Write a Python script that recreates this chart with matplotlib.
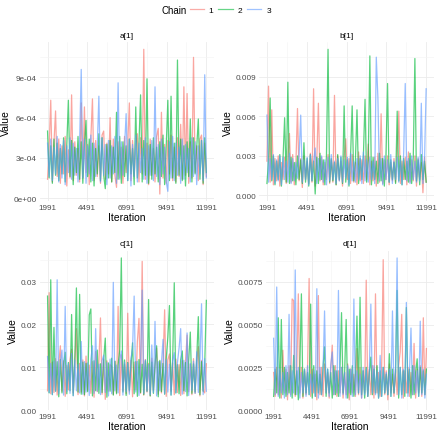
import numpy as np
import matplotlib
matplotlib.use("Agg")
import matplotlib.pyplot as plt
from matplotlib.lines import Line2D

plt.rcParams['font.family'] = ['Liberation Sans', 'DejaVu Sans']

# trace values (thinned); each list is stored in integer units
# a[1] in 1e-5
a_chain1 = [14, 38, 73, 12, 41, 65, 16, 44, 11, 39, 18, 46, 9, 36, 15, 77, 13, 42, 17, 37,
            12, 71, 15, 68, 19, 40, 10, 45, 74, 13, 43, 16, 39, 11, 47, 50, 14, 41, 18, 60,
            12, 44, 17, 8, 42, 15, 38, 11, 46, 19, 40, 71, 13, 43, 16, 39, 48, 12, 45, 18,
            111, 14, 41, 10, 44, 17, 37, 12, 46, 52, 3, 64, 15, 40, 11, 43, 18, 47, 13, 38,
            12, 45, 16, 55, 14, 83, 17, 78, 11, 42, 15, 105, 19, 39, 13, 44, 47, 10, 41, 16]
a_chain2 = [50, 15, 39, 11, 44, 17, 41, 13, 37, 18, 45, 12, 40, 73, 16, 43, 10, 38, 19, 46,
            14, 42, 11, 39, 58, 16, 44, 12, 41, 9, 37, 18, 48, 13, 45, 17, 7, 40, 15, 43,
            12, 38, 19, 64, 14, 46, 11, 42, 16, 39, 13, 44, 18, 37, 10, 68, 15, 41, 77, 12,
            43, 17, 89, 11, 40, 14, 45, 18, 38, 12, 42, 16, 47, 10, 39, 73, 13, 76, 15, 41,
            11, 103, 17, 44, 13, 39, 9, 42, 16, 59, 12, 45, 18, 38, 59, 14, 43, 11, 45, 19]
a_chain3 = [41, 16, 44, 13, 38, 18, 46, 12, 40, 15, 43, 10, 39, 19, 45, 14, 41, 17, 37, 12,
            42, 96, 15, 44, 11, 39, 18, 47, 13, 41, 16, 38, 76, 12, 45, 17, 40, 10, 43, 15,
            39, 18, 46, 11, 86, 14, 42, 17, 38, 63, 13, 44, 9, 40, 16, 47, 12, 41, 19, 37,
            14, 45, 11, 39, 17, 43, 13, 83, 16, 40, 10, 44, 18, 38, 12, 5, 42, 15, 46, 13,
            41, 17, 38, 11, 44, 14, 40, 19, 37, 12, 45, 16, 42, 10, 39, 18, 43, 13, 92, 15]

# b[1] in 1e-4
b_chain1 = [26, 83, 10, 65, 8, 28, 11, 30, 7, 25, 12, 29, 9, 27, 47, 10, 31, 8, 24, 66,
            11, 28, 6, 30, 12, 26, 9, 32, 10, 81, 7, 27, 70, 11, 29, 8, 25, 12, 31, 9,
            27, 10, 76, 8, 30, 11, 26, 7, 29, 43, 12, 28, 9, 31, 10, 25, 8, 33, 11, 27,
            9, 30, 12, 39, 8, 26, 11, 29, 7, 32, 10, 62, 9, 27, 12, 30, 8, 25, 11, 28,
            10, 31, 64, 9, 26, 12, 29, 8, 33, 10, 27, 11, 30, 7, 28, 12, 25, 2, 29, 10]
b_chain2 = [9, 27, 74, 11, 30, 8, 26, 12, 31, 7, 28, 59, 10, 86, 9, 29, 11, 25, 8, 30,
            12, 27, 9, 40, 10, 28, 7, 31, 11, 26, 1, 29, 9, 32, 12, 27, 8, 30, 111, 10,
            28, 11, 25, 8, 31, 12, 29, 9, 68, 10, 27, 7, 30, 68, 11, 26, 65, 9, 28, 12,
            31, 73, 10, 27, 106, 8, 29, 12, 26, 9, 32, 11, 28, 7, 30, 85, 10, 27, 12, 25,
            9, 64, 11, 30, 8, 28, 12, 26, 10, 32, 9, 29, 104, 11, 27, 8, 31, 12, 26, 10]
b_chain3 = [61, 10, 28, 12, 31, 9, 27, 11, 30, 8, 29, 12, 26, 10, 32, 9, 28, 11, 25, 13,
            30, 61, 10, 27, 12, 29, 8, 31, 11, 26, 36, 9, 28, 12, 30, 10, 27, 8, 29, 11,
            31, 12, 26, 9, 28, 11, 30, 10, 27, 13, 29, 8, 32, 11, 26, 10, 28, 12, 30, 9,
            33, 11, 27, 10, 29, 12, 26, 9, 105, 74, 11, 28, 8, 30, 12, 27, 10, 31, 9, 26,
            12, 29, 10, 27, 8, 31, 85, 11, 28, 9, 30, 12, 26, 10, 29, 11, 70, 9, 27, 81]

# c[1] in 1e-4
c_chain1 = [45, 274, 38, 112, 41, 120, 35, 108, 150, 44, 115, 32, 104, 47, 118, 142, 40, 111, 190, 36,
            109, 42, 117, 33, 126, 46, 105, 39, 113, 30, 137, 43, 110, 215, 37, 119, 25, 115, 44, 106,
            102, 36, 114, 41, 242, 34, 129, 45, 107, 38, 226, 42, 116, 31, 112, 47, 160, 214, 39, 347,
            35, 118, 42, 109, 33, 121, 46, 104, 145, 37, 113, 40, 108, 234, 32, 117, 131, 44, 110, 36,
            119, 41, 106, 34, 115, 38, 111, 175, 43, 107, 36, 120, 39, 112, 148, 33, 116, 45, 40, 108]
c_chain2 = [266, 40, 304, 36, 193, 44, 113, 31, 118, 40, 107, 135, 38, 111, 45, 223, 34, 116, 285, 42,
            270, 37, 112, 36, 109, 43, 222, 236, 33, 115, 45, 140, 39, 108, 41, 119, 168, 30, 110, 44,
            121, 35, 114, 38, 106, 140, 355, 42, 117, 34, 111, 46, 105, 157, 38, 113, 32, 118, 41, 107,
            36, 115, 44, 258, 33, 112, 39, 108, 150, 31, 116, 43, 109, 37, 120, 170, 244, 35, 114, 297,
            40, 106, 38, 117, 138, 45, 111, 33, 115, 182, 39, 108, 42, 119, 218, 36, 113, 44, 107, 256]
c_chain3 = [125, 41, 109, 36, 114, 44, 304, 38, 112, 140, 35, 242, 43, 108, 39, 132, 33, 117, 45, 106,
            40, 160, 37, 113, 42, 110, 34, 118, 150, 39, 190, 44, 107, 36, 115, 128, 41, 111, 33, 119,
            38, 298, 45, 105, 40, 116, 138, 35, 112, 43, 109, 37, 120, 143, 266, 42, 114, 34, 108, 280,
            39, 117, 44, 106, 36, 152, 41, 207, 33, 113, 45, 110, 165, 38, 118, 42, 107, 35, 115, 134,
            40, 111, 145, 190, 37, 116, 43, 180, 34, 109, 46, 114, 39, 136, 41, 112, 248, 36, 120, 44]

# d[1] in 1e-4
d_chain1 = [22, 8, 25, 9, 23, 7, 35, 10, 24, 6, 26, 9, 65, 64, 8, 22, 68, 10, 25, 7,
            23, 9, 26, 77, 8, 24, 10, 21, 6, 67, 9, 25, 8, 27, 10, 22, 7, 24, 38, 9,
            26, 8, 23, 10, 25, 7, 22, 9, 27, 6, 24, 10, 21, 8, 36, 9, 25, 7, 23, 10,
            76, 8, 24, 9, 26, 7, 68, 10, 22, 8, 25, 88, 9, 23, 6, 27, 10, 21, 8, 24,
            9, 26, 34, 56, 7, 23, 10, 25, 8, 22, 9, 39, 7, 24, 10, 26, 8, 54, 9, 36]
d_chain2 = [8, 24, 10, 54, 7, 53, 9, 25, 8, 22, 10, 26, 7, 32, 9, 23, 6, 25, 68, 8,
            24, 10, 22, 9, 62, 7, 26, 8, 23, 10, 21, 9, 25, 37, 8, 24, 10, 22, 7, 26,
            9, 23, 8, 25, 57, 10, 22, 53, 7, 24, 9, 26, 8, 21, 55, 10, 66, 9, 23, 7,
            25, 8, 22, 31, 9, 24, 10, 26, 7, 23, 8, 25, 10, 21, 9, 33, 8, 24, 10, 22,
            70, 7, 25, 9, 23, 8, 60, 10, 24, 7, 26, 9, 22, 30, 8, 25, 10, 23, 9, 24]
d_chain3 = [42, 9, 72, 8, 24, 10, 22, 7, 26, 9, 56, 8, 23, 10, 82, 9, 25, 7, 22, 10,
            24, 8, 26, 9, 21, 10, 23, 8, 71, 7, 25, 9, 22, 58, 10, 24, 8, 26, 34, 9,
            23, 10, 70, 8, 25, 9, 22, 7, 26, 10, 24, 8, 65, 9, 23, 10, 21, 7, 25, 9,
            24, 8, 22, 62, 10, 26, 9, 23, 7, 32, 8, 25, 10, 22, 9, 24, 8, 58, 10, 23,
            89, 9, 25, 7, 24, 10, 63, 8, 22, 48, 9, 26, 10, 23, 8, 52, 9, 24, 7, 21]

first_iter, last_iter = 1991, 11991
x_ticks = [1991, 4491, 6991, 9491, 11991]
chain_labels = ["1", "2", "3"]
chain_colors = ["#F8766D", "#00BA38", "#619CFF"]

panels = [
    ("a[1]", [a_chain1, a_chain2, a_chain3], 1e-5, [0, 3e-4, 6e-4, 9e-4],
     ["0e+00", "3e-04", "6e-04", "9e-04"], [0.090, 0.535, 0.397, 0.366]),
    ("b[1]", [b_chain1, b_chain2, b_chain3], 1e-4, [0, 0.003, 0.006, 0.009],
     ["0.000", "0.003", "0.006", "0.009"], [0.5886, 0.535, 0.398, 0.366]),
    ("c[1]", [c_chain1, c_chain2, c_chain3], 1e-4, [0, 0.01, 0.02, 0.03],
     ["0.00", "0.01", "0.02", "0.03"], [0.090, 0.055, 0.397, 0.366]),
    ("d[1]", [d_chain1, d_chain2, d_chain3], 1e-4, [0, 0.0025, 0.005, 0.0075],
     ["0.0000", "0.0025", "0.0050", "0.0075"], [0.6045, 0.055, 0.382, 0.366]),
]

fig = plt.figure(figsize=(4.4, 4.35), dpi=100)

for title, chains, unit, yt, ytl, rect in panels:
    ax = fig.add_axes(rect)
    for vals, col in zip(chains, chain_colors):
        y = np.array(vals) * unit
        x = np.linspace(first_iter, last_iter, len(y))
        ax.plot(x, y, color=col, alpha=0.65, lw=0.9)
    ax.margins(x=0.05, y=0.05)
    ax.set_xticks(x_ticks)
    ax.set_xticklabels([str(t) for t in x_ticks])
    ax.set_yticks(yt)
    ax.set_yticklabels(ytl)
    # minor gridlines halfway between majors, like ggplot
    ax.set_xticks([(x_ticks[i] + x_ticks[i + 1]) / 2 for i in range(len(x_ticks) - 1)], minor=True)
    step = yt[1] - yt[0]
    ax.set_yticks([v + step / 2 for v in yt[:-1]] + [yt[-1] + step / 2], minor=True)
    ax.grid(which="major", color="#EBEBEB", lw=0.6)
    ax.grid(which="minor", color="#F4F4F4", lw=0.4)
    ax.set_axisbelow(True)
    for s in ax.spines.values():
        s.set_visible(False)
    ax.tick_params(which="both", length=0, labelsize=5.9, labelcolor="#4D4D4D", pad=2)
    ax.set_title(title, fontsize=6, pad=4)
    ax.set_xlabel("Iteration", fontsize=7.5, labelpad=1)
    ax.set_ylabel("Value", fontsize=7.5, labelpad=2)

handles = [Line2D([], [], color=c, alpha=0.6, lw=0.9) for c in chain_colors]
fig.text(0.425, 0.975, "Chain", fontsize=7, ha="right", va="center")
fig.legend(handles, chain_labels, ncol=3, loc="center left", bbox_to_anchor=(0.427, 0.975),
           frameon=False, fontsize=6, handlelength=1.7, handletextpad=0.6, columnspacing=0.6,
           borderaxespad=0, borderpad=0.2)

fig.savefig("out.png", dpi=100)
